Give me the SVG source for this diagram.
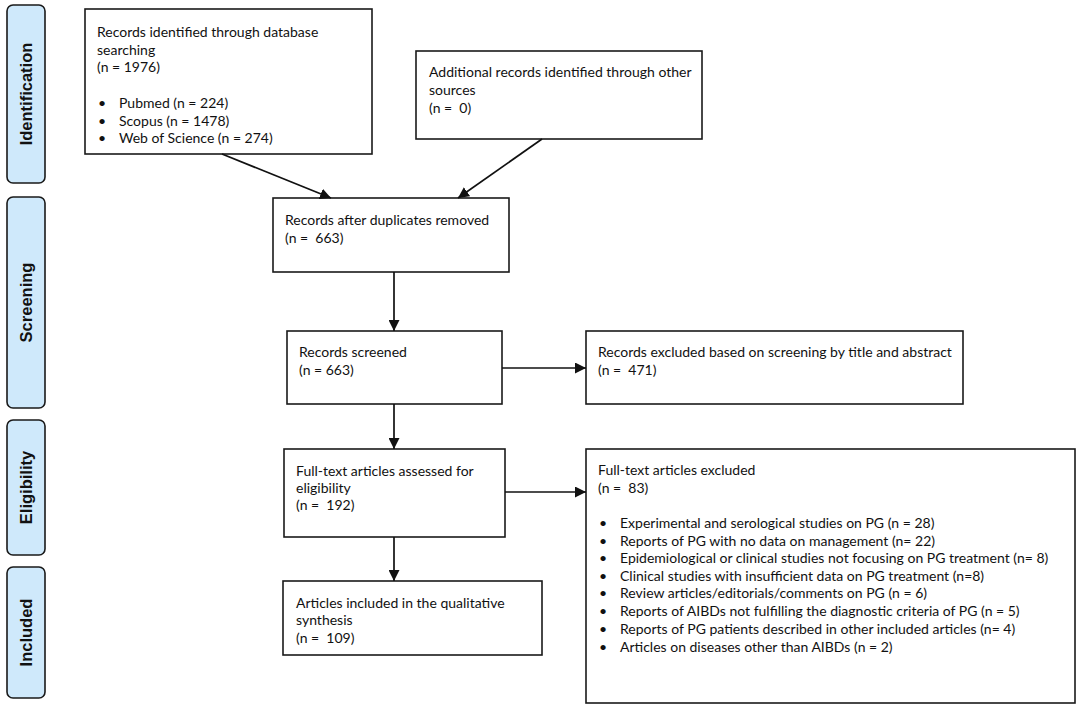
<svg xmlns="http://www.w3.org/2000/svg" width="1084" height="712" viewBox="0 0 1084 712">
<defs>
<style>
.box{fill:#fff;stroke:#1a1a1a;stroke-width:1.6}
.tab{fill:#cfe9fb;stroke:#1a1a1a;stroke-width:1.6}
.t{font-family:Lato,"Liberation Sans",sans-serif;font-size:14px;fill:#111}
.lab{font-family:"Liberation Sans",Arial,sans-serif;font-size:16.5px;font-weight:bold;fill:#111;text-anchor:middle}
.c{stroke:#111;stroke-width:1.7;fill:none;marker-end:url(#ah)}
</style>
<marker id="ah" markerUnits="userSpaceOnUse" markerWidth="11" markerHeight="11" refX="11" refY="5.5" orient="auto">
<path d="M0,0 L11,5.5 L0,11 z" fill="#111"/>
</marker>
</defs>
<rect width="1084" height="712" fill="#fff"/>

<g id="tab-identification"><rect class="tab" x="7" y="5" width="38" height="178" rx="6"/><text class="lab" transform="translate(32,94) rotate(-90)">Identification</text></g>
<g id="tab-screening"><rect class="tab" x="7" y="197" width="38" height="211" rx="6"/><text class="lab" transform="translate(32,302.5) rotate(-90)">Screening</text></g>
<g id="tab-eligibility"><rect class="tab" x="7" y="420" width="38" height="135" rx="6"/><text class="lab" transform="translate(32,487.5) rotate(-90)">Eligibility</text></g>
<g id="tab-included"><rect class="tab" x="7" y="567" width="38" height="131" rx="6"/><text class="lab" transform="translate(32,632.5) rotate(-90)">Included</text></g>

<g id="n-db"><rect class="box" x="85" y="9" width="287" height="145"/>
<text class="t" x="97" y="37">Records identified through database</text>
<text class="t" x="97" y="55">searching</text>
<text class="t" x="97" y="72">(n = 1976)</text>
<text class="t" x="98" y="108">•</text><text class="t" x="119" y="108">Pubmed (n = 224)</text>
<text class="t" x="98" y="126">•</text><text class="t" x="119" y="126">Scopus (n = 1478)</text>
<text class="t" x="98" y="143">•</text><text class="t" x="119" y="143">Web of Science (n = 274)</text>
</g>
<g id="n-other"><rect class="box" x="416" y="51" width="286" height="88"/>
<text class="t" x="429" y="77">Additional records identified through other</text>
<text class="t" x="429" y="95">sources</text>
<text class="t" x="429" y="113">(n = &#160;0)</text>
</g>
<g id="n-dup"><rect class="box" x="273" y="198" width="236" height="74"/>
<text class="t" x="285" y="225">Records after duplicates removed</text>
<text class="t" x="285" y="243">(n = &#160;663)</text>
</g>
<g id="n-screened"><rect class="box" x="287" y="331" width="215" height="73"/>
<text class="t" x="299" y="357">Records screened</text>
<text class="t" x="299" y="375">(n = 663)</text>
</g>
<g id="n-excl1"><rect class="box" x="586" y="331" width="377" height="73"/>
<text class="t" x="598" y="357">Records excluded based on screening by title and abstract</text>
<text class="t" x="598" y="375">(n = &#160;471)</text>
</g>
<g id="n-full"><rect class="box" x="284" y="449" width="221" height="88"/>
<text class="t" x="296" y="476">Full-text articles assessed for</text>
<text class="t" x="296" y="493">eligibility</text>
<text class="t" x="296" y="510">(n = &#160;192)</text>
</g>
<g id="n-excl2"><rect class="box" x="586" y="449" width="489" height="254"/>
<text class="t" x="598" y="475">Full-text articles excluded</text>
<text class="t" x="598" y="493">(n = &#160;83)</text>
<text class="t" x="599" y="528">•</text><text class="t" x="620" y="528">Experimental and serological studies on PG (n = 28)</text>
<text class="t" x="599" y="546">•</text><text class="t" x="620" y="546">Reports of PG with no data on management (n= 22)</text>
<text class="t" x="599" y="563">•</text><text class="t" x="620" y="563">Epidemiological or clinical studies not focusing on PG treatment (n= 8)</text>
<text class="t" x="599" y="581">•</text><text class="t" x="620" y="581">Clinical studies with insufficient data on PG treatment (n=8)</text>
<text class="t" x="599" y="598">•</text><text class="t" x="620" y="598">Review articles/editorials/comments on PG (n = 6)</text>
<text class="t" x="599" y="616">•</text><text class="t" x="620" y="616">Reports of AIBDs not fulfilling the diagnostic criteria of PG (n = 5)</text>
<text class="t" x="599" y="634">•</text><text class="t" x="620" y="634">Reports of PG patients described in other included articles (n= 4)</text>
<text class="t" x="599" y="652">•</text><text class="t" x="620" y="652">Articles on diseases other than AIBDs (n = 2)</text>
</g>
<g id="n-incl"><rect class="box" x="283" y="581" width="259" height="74"/>
<text class="t" x="296" y="608">Articles included in the qualitative</text>
<text class="t" x="296" y="625">synthesis</text>
<text class="t" x="296" y="643">(n = &#160;109)</text>
</g>

<g id="connectors">
<line class="c" x1="222" y1="154" x2="331" y2="198"/>
<line class="c" x1="542" y1="139" x2="458" y2="198"/>
<line class="c" x1="394" y1="272" x2="394" y2="331"/>
<line class="c" x1="502" y1="368" x2="586" y2="368"/>
<line class="c" x1="394" y1="404" x2="394" y2="449"/>
<line class="c" x1="505" y1="492" x2="586" y2="492"/>
<line class="c" x1="394" y1="537" x2="394" y2="581"/>
</g>
</svg>
